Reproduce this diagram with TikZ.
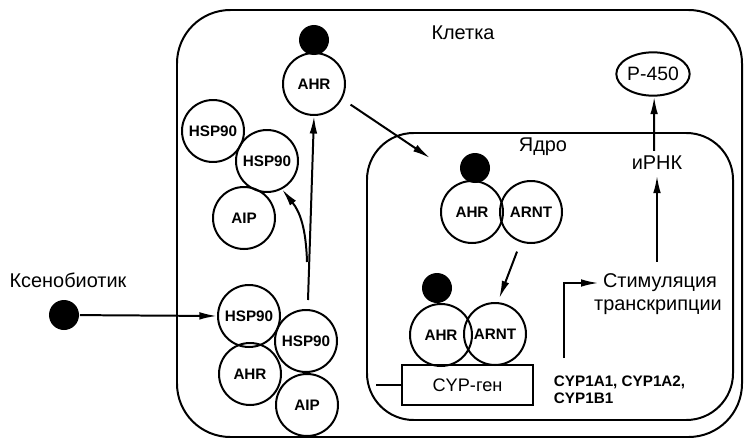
\documentclass[tikz,border=0pt]{standalone}
\usepackage{fontspec}
\setmainfont{Liberation Sans}
\usetikzlibrary{arrows.meta,shapes.geometric}

\begin{document}
\begin{tikzpicture}[x=0.03cm, y=-0.03cm, line width=1.7pt,
  prot/.style={circle,draw,minimum size=1.86cm,inner sep=0pt,font=\bfseries\fontsize{13}{15}\selectfont},
  lig/.style={circle,fill=black,minimum size=0.9cm,inner sep=0pt},
  lbl/.style={font=\fontsize{17}{19}\selectfont,inner sep=1pt},
  arr/.style={-{Latex[length=15pt,width=6.5pt]}}]
  \useasboundingbox (0,0) rectangle (747,447);
  % cell and nucleus
  \draw[rounded corners=1.6cm] (177,10) rectangle (742,437);
  \draw[rounded corners=1.4cm] (367,133) rectangle (733,420);
  \node[lbl] (cell) at (463,33) {Клетка};
  \node[lbl] (nuc) at (543,147) {Ядро};
  % xenobiotic
  \node[lbl] (xlab) at (68,280) {Ксенобиотик};
  \node[lig] (xeno) at (64,315) {};
  % proteins
  \foreach \n/\t/\x/\y in {hspA/HSP90/249/316, hspB/HSP90/306/341, ahrB/AHR/250/374, aipB/AIP/307/405,
      hspC/HSP90/213/131, hspD/HSP90/267/161, aipA/AIP/244/218, ahrA/AHR/314/84,
      ahrN/AHR/472/212, arntN/ARNT/531/212, ahrG/AHR/441/335, arntG/ARNT/495/334}
    \node[prot] (\n) at (\x,\y) {\t};
  \node[lig] (ligA) at (314,40) {};
  \node[lig] (ligN) at (475,168) {};
  \node[lig] (ligG) at (437,288) {};
  % gene
  \node[draw,minimum width=3.93cm,minimum height=1.2cm,font=\fontsize{15.5}{17}\selectfont] (gene) at (467.5,385) {CYP-ген};
  \coordinate (gl) at (376,385);
  \draw (gl) -- (gene.west);
  \node[font=\bfseries\fontsize{13}{14.5}\selectfont,align=left,anchor=west,inner sep=0pt] (cyp) at (553,390) {CYP1A1, CYP1A2,\\CYP1B1};
  \node[lbl] (stim1) at (660,283) {Стимуляция};
  \node[lbl] (stim2) at (658,307) {транскрипции};
  \node[lbl] (mrna) at (657,163) {иРНК};
  \node[ellipse,draw,minimum width=2.2cm,minimum height=1.3cm,inner sep=0pt,font=\fontsize{16.5}{18}\selectfont] (p450) at (653,74) {P-450};
  % arrows
  \coordinate (up0) at (308,300);
  \coordinate (up1) at (307,262);
  \coordinate (inN) at (430,158);
  \coordinate (tss) at (564,358);
  \draw[arr] (xeno) -- (hspA.west);
  \draw[arr] (up0) -- (ahrA.south);
  \draw[arr] (up1) .. controls (306,228) and (300,212) .. (hspD.-62);
  \draw[arr,shorten <=0.3cm] (ahrA.-28) -- (inN);
  \draw[arr,shorten <=0.3cm,shorten >=0.12cm] (arntN.-109) -- (arntG.85);
  \draw[arr] (tss) |- ([xshift=-2pt]stim1.west);
  \draw[arr] (mrna.south |- stim1.north) ++(0,-10) -- ([yshift=-3pt]mrna.south);
  \draw[arr] (mrna.north) ++(-3,-3) -- ([xshift=1pt]p450.south);
\end{tikzpicture}
\end{document}
